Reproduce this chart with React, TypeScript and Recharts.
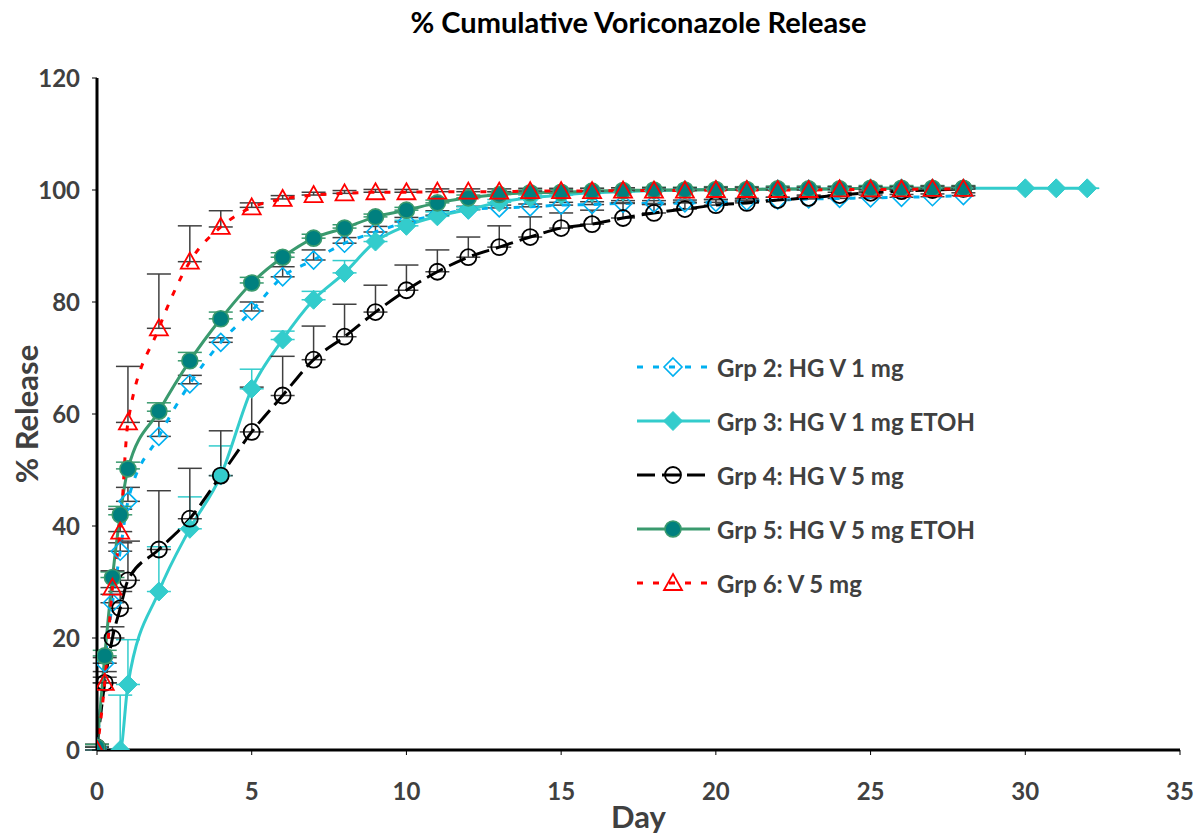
import { LineChart, Line, XAxis, YAxis, ErrorBar, Legend } from "recharts";

// sampling days (grp 2, 4, 5, 6)
const days = [0, 0.25, 0.5, 0.75, 1, 2, 3, 4, 5, 6, 7, 8, 9, 10, 11, 12, 13, 14, 15, 16, 17, 18, 19, 20, 21, 22, 23, 24, 25, 26, 27, 28];
// grp 3 was sampled differently
const grp3Days = [0, 0.75, 1, 2, 3, 4, 5, 6, 7, 8, 9, 10, 11, 12, 13, 14, 15, 16, 17, 18, 19, 20, 21, 22, 23, 24, 25, 26, 27, 28, 30, 31, 32];

const grp2 = [0.5, 15.5, 26.3, 35.5, 44.4, 56, 65.4, 72.8, 78.4, 84.5, 87.5, 90.5, 92.5, 94.3, 95.5, 96.5, 96.8, 97, 97.3, 97.4, 97.6, 97.6, 97.7, 97.8, 98, 98.2, 98.4, 98.5, 98.6, 98.7, 98.8, 99];
const grp2Err = [0.5, 1, 1.5, 1.5, 2.5, 2.7, 1.5, 0.8, 1.6, 1.8, 1.8, 1, 1, 0.8, 0.8, 0.6, 0.5, 0.5, 0.5, 0.5, 0.5, 0.5, 0.5, 0.5, 0.5, 0.5, 0.5, 0.5, 0.5, 0.5, 0.5, 0.5];

const grp3 = [0, 0, 11.7, 28.3, 39.5, 49, 64.5, 73.3, 80.4, 85.2, 90.8, 93.6, 95.3, 96.5, 97.8, 98.6, 99.1, 99.5, 99.7, 99.9, 100, 100.1, 100.1, 100.2, 100.2, 100.2, 100.3, 100.3, 100.3, 100.3, 100.3, 100.3, 100.3];
const grp3Err = [0, 9.8, 8, 8, 5.7, 5.3, 3.5, 1.5, 1.5, 2.2, 1, 1, 0.8, 0.5, 0.5, 0.5, 0.3, 0.3, 0.3, 0.3, 0.3, 0.3, 0.3, 0.3, 0.3, 0.3, 0.3, 0.3, 0.3, 0.3, 0, 0, 0];

const grp4 = [0.5, 12, 20, 25.3, 30.3, 35.8, 41.3, 49, 56.8, 63.3, 69.7, 73.8, 78.2, 82.1, 85.4, 88, 89.8, 91.6, 93.2, 93.9, 95, 95.9, 96.6, 97.3, 97.7, 98.2, 98.6, 99.1, 99.5, 99.8, 100, 100.2];
const grp4Err = [0.5, 1, 2, 3, 7, 10.5, 9, 8, 8, 7, 6, 5.8, 4.8, 4.5, 3.9, 3.6, 3.8, 3.6, 2.7, 2.5, 2.7, 1.5, 1.2, 1, 0.5, 0.5, 0.5, 0.5, 0.3, 0.3, 0.3, 0.3];

const grp5 = [0.5, 16.8, 30.8, 42, 50.2, 60.5, 69.5, 77, 83.4, 88, 91.4, 93.2, 95.2, 96.4, 97.7, 98.6, 99.2, 99.5, 99.6, 99.8, 99.9, 100, 100, 100.1, 100.1, 100.2, 100.2, 100.2, 100.3, 100.3, 100.3, 100.3];
const grp5Err = [0.5, 1, 1, 1.5, 1.2, 1.5, 1.5, 1.2, 1, 0.8, 0.7, 0.6, 0.5, 0.5, 0.5, 0.5, 0.5, 0.5, 0.5, 0.5, 0.5, 0.5, 0.5, 0.5, 0.5, 0.5, 0.5, 0.5, 0.5, 0.5, 0.5, 0.5];

const grp6 = [0, 12, 29, 39, 58.5, 75.3, 87.2, 93.4, 96.9, 98.4, 99.1, 99.4, 99.6, 99.6, 99.7, 99.7, 99.7, 99.8, 99.8, 99.8, 99.9, 99.9, 99.9, 100, 100, 100, 100, 100.1, 100.1, 100.1, 100.2, 100.2];
const grp6Err = [0.5, 2, 3, 4, 10, 9.7, 6.4, 2.9, 0.8, 0.6, 0.5, 0.5, 0.5, 0.5, 0.5, 0.5, 0.5, 0.5, 0.5, 0.5, 0.5, 0.5, 0.5, 0.5, 0.5, 0.5, 0.5, 0.5, 0.5, 0.5, 0.5, 0.5];

const xTicks = [0, 5, 10, 15, 20, 25, 30, 35];
const yTicks = [0, 20, 40, 60, 80, 100, 120];

const toRows = (x: number[], y: number[], e: number[]) =>
  x.map((d, i) => ({ day: d, value: y[i], err: [0, e[i]] }));

type MarkerKind = "diamondOpen" | "diamondFilled" | "circleOpen" | "circleFilled" | "triangle";

const series = [
  { name: "Grp 2: HG V 1 mg", rows: toRows(days, grp2, grp2Err), stroke: "#00B0F0", dash: "6 10", marker: "diamondOpen" as MarkerKind, errColor: "#404040" },
  { name: "Grp 3: HG V 1 mg ETOH", rows: toRows(grp3Days, grp3, grp3Err), stroke: "#33CCCC", dash: undefined, marker: "diamondFilled" as MarkerKind, errColor: "#33CCCC" },
  { name: "Grp 4: HG V 5 mg", rows: toRows(days, grp4, grp4Err), stroke: "#000000", dash: "18 7", marker: "circleOpen" as MarkerKind, errColor: "#404040" },
  { name: "Grp 5: HG V 5 mg ETOH", rows: toRows(days, grp5, grp5Err), stroke: "#3A9A6E", dash: undefined, marker: "circleFilled" as MarkerKind, errColor: "#3A9A6E" },
  { name: "Grp 6: V 5 mg", rows: toRows(days, grp6, grp6Err), stroke: "#FF0000", dash: "6 10", marker: "triangle" as MarkerKind, errColor: "#404040" },
];

function Marker({ kind, cx, cy }: { kind: MarkerKind; cx: number; cy: number }) {
  if (cx == null || cy == null) return null;
  switch (kind) {
    case "diamondOpen":
      return <polygon points={`${cx},${cy - 9} ${cx + 9},${cy} ${cx},${cy + 9} ${cx - 9},${cy}`} fill="none" stroke="#00B0F0" strokeWidth={1.6} />;
    case "diamondFilled":
      return <polygon points={`${cx},${cy - 9.5} ${cx + 9.5},${cy} ${cx},${cy + 9.5} ${cx - 9.5},${cy}`} fill="#33CCCC" stroke="#33CCCC" strokeWidth={1} />;
    case "circleOpen":
      return <circle cx={cx} cy={cy} r={8} fill="none" stroke="#000" strokeWidth={1.8} />;
    case "circleFilled":
      return <circle cx={cx} cy={cy} r={8} fill="#00807F" stroke="#3A9A6E" strokeWidth={1.6} />;
    default:
      return <polygon points={`${cx},${cy - 9} ${cx + 9},${cy + 7} ${cx - 9},${cy + 7}`} fill="none" stroke="#FF0000" strokeWidth={1.8} />;
  }
}

const LegendBox = () => (
  <div style={{ display: "flex", flexDirection: "column" }}>
    {series.map((s) => (
      <div key={s.name} style={{ display: "flex", alignItems: "center", height: 54 }}>
        <svg width={80} height={24}>
          <line x1={0} y1={12} x2={73} y2={12} stroke={s.stroke} strokeWidth={3} strokeDasharray={s.dash} />
          <Marker kind={s.marker} cx={36} cy={12} />
        </svg>
        <span style={{ fontSize: 24, fontWeight: 700, color: "#404040", whiteSpace: "nowrap" }}>{s.name}</span>
      </div>
    ))}
  </div>
);

const tickStyle = { fill: "#404040", fontSize: 24, fontWeight: 700 };

export default function App() {
  return (
    <div style={{ position: "absolute", left: 0, top: 0, width: 1203, height: 837, background: "#fff", fontFamily: "Lato, 'Open Sans', sans-serif" }}>
      <div style={{ position: "absolute", left: 97, top: 4, width: 1083, textAlign: "center", fontSize: 29, fontWeight: 700, color: "#000" }}>
        % Cumulative Voriconazole Release
      </div>
      <LineChart width={1203} height={837} margin={{ top: 78, right: 23, bottom: 0, left: 0 }}>
        <XAxis
          type="number"
          dataKey="day"
          domain={[0, 35]}
          ticks={xTicks}
          allowDataOverflow
          height={87}
          tick={tickStyle}
          tickSize={5}
          tickMargin={28}
          axisLine={{ stroke: "#000", strokeWidth: 3 }}
          tickLine={{ stroke: "#000" }}
          label={{ value: "Day", position: "insideBottom", offset: 9, style: { fill: "#404040", fontSize: 31, fontWeight: 700 } }}
        />
        <YAxis
          type="number"
          domain={[0, 120]}
          ticks={yTicks}
          allowDataOverflow
          width={97}
          tick={tickStyle}
          tickSize={5}
          tickMargin={12}
          axisLine={{ stroke: "#000", strokeWidth: 3 }}
          tickLine={{ stroke: "#000" }}
          label={{ value: "% Release", angle: -90, position: "insideLeft", offset: 27, style: { textAnchor: "middle", fill: "#404040", fontSize: 31, fontWeight: 700 } }}
        />
        {series.map((s) => (
          <Line
            key={s.name}
            name={s.name}
            data={s.rows}
            dataKey="value"
            type="monotone"
            stroke={s.stroke}
            strokeWidth={3}
            strokeDasharray={s.dash}
            isAnimationActive={false}
            activeDot={false}
            dot={(p: any) => <Marker key={`${s.marker}-${p.index}`} kind={s.marker} cx={p.cx} cy={p.cy} />}
          >
            <ErrorBar dataKey="err" direction="y" width={12} stroke={s.errColor} strokeWidth={1.5} isAnimationActive={false} />
          </Line>
        ))}
        <Legend layout="vertical" align="center" verticalAlign="middle" content={<LegendBox />} wrapperStyle={{ left: 637, top: 340, width: 400 }} />
      </LineChart>
    </div>
  );
}
